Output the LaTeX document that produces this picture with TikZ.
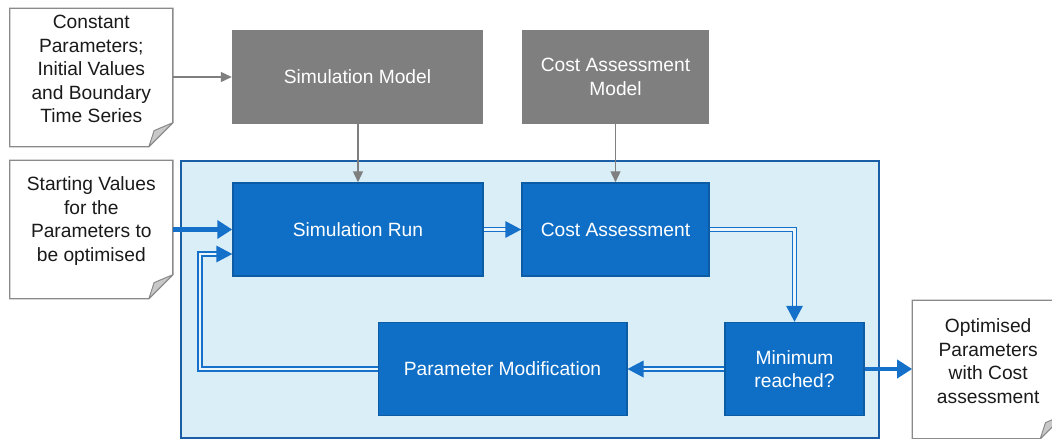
\documentclass[tikz,border=0pt]{standalone}
\usepackage{fontspec}
\setmainfont{Liberation Sans}
\usetikzlibrary{arrows.meta,calc}

\definecolor{boxgray}{HTML}{7F7F7F}
\definecolor{boxblue}{HTML}{0F6FC6}
\definecolor{boxblueedge}{HTML}{0C5BA5}
\definecolor{panelfill}{HTML}{DAEEF8}
\definecolor{paneledge}{HTML}{1A5FA6}
\definecolor{flowblue}{HTML}{1570C9}
\definecolor{noteedge}{HTML}{8A8A8A}
\definecolor{notefold}{HTML}{C8C8C8}
\definecolor{notetextcol}{HTML}{1A1A1A}

\tikzset{
  graybox/.style={rectangle, fill=boxgray, text=white, minimum width=#1,
    minimum height=94pt, align=center, inner sep=0pt},
  bluebox/.style={rectangle, draw=boxblueedge, line width=1.5pt, fill=boxblue,
    text=white, minimum width=#1, minimum height=93pt, align=center, inner sep=0pt},
  notebox/.style={rectangle, minimum width=#1, minimum height=138pt, inner sep=0pt},
  notetext/.style={align=center, text=notetextcol, yshift=8.5pt},
  noteline/.style={draw=noteedge, line width=1.3pt, fill=white, line join=miter},
  foldline/.style={draw=noteedge, line width=1pt, fill=notefold, line join=round},
  grayarrow/.style={draw=boxgray, line width=1.3pt, -{Triangle[length=11pt,width=10pt]}},
  thickarrow/.style={draw=flowblue, line width=4.5pt, -{Triangle[length=15pt,width=18pt]}},
  doubleflow/.style={draw=flowblue, line width=1.8pt, double=white!45!panelfill,
    double distance=2.2pt, shorten >=14pt},
  flowtip/.style={fill=flowblue},
}

% folded-corner sheet drawn around a note node
\newcommand\foldsheet[2]{%
  \draw[noteline] (#1.north west) -- (#1.north east)
    -- ($(#1.south east)+(0,-#2)$) -- ($(#1.south east)+(-#2,0)$)
    -- (#1.south west) -- cycle;
  \draw[foldline] ($(#1.south east)+(0,-#2)$) -- ($(#1.south east)+(-#2,0)$)
    -- ($(#1.south east)+(-0.78*#2,-0.67*#2)$) -- cycle;
}

\begin{document}
\begin{tikzpicture}[x=1pt, y=-1pt, font=\fontsize{19.2}{23.5}\selectfont]
\useasboundingbox (0,0) rectangle (1052,439);
\clip (0,0) rectangle (1052,439);

% optimisation loop panel
\node[rectangle, draw=paneledge, line width=2pt, fill=panelfill,
  minimum width=698pt, minimum height=277.5pt, inner sep=0pt] (panel) at (530.2,299.5) {};

% input and output sheets
\node[notebox=162.7pt] (consts) at (91.3,77.5) {};
\node[notebox=162.7pt] (start) at (91.3,229.5) {};
\node[notebox=151.7pt] (result) at (988.2,369.5) {};
\foldsheet{consts}{24}
\foldsheet{start}{24}
\foldsheet{result}{24}
\node[notetext] (conststext) at (consts.center) {Constant\\Parameters;\\Initial Values\\and Boundary\\Time Series};
\node[notetext] (starttext) at (start.center) {Starting Values\\for the\\Parameters to\\be optimised};
\node[notetext] (resulttext) at (result.center) {Optimised\\Parameters\\with Cost\\assessment};

% models
\node[graybox=251pt] (simmodel) at (357.5,77) {Simulation Model};
\node[graybox=187pt] (costmodel) at (615.5,77) {Cost Assessment\\Model};

% loop steps
\node[bluebox=250pt] (simrun) at (358,229.5) {Simulation Run};
\node[bluebox=187pt] (cost) at (615.5,229.5) {Cost Assessment};
\node[bluebox=139pt] (minimum) at (794.5,369) {Minimum\\reached?};
\node[bluebox=248.5pt] (parmod) at (502.5,369) {Parameter Modification};

% model inputs
\draw[grayarrow] (consts.east |- simmodel.west) -- (simmodel.west);
\draw[grayarrow] (simmodel.south -| simrun.north) -- (simrun.north);
\draw[grayarrow] (costmodel.south -| cost.north) -- (cost.north);

% starting values and result
\draw[thickarrow] (start.east |- simrun.west) -- (simrun.west);
\draw[thickarrow] (minimum.east) -- (result.west |- minimum.east);

% loop flow
\draw[doubleflow] (simrun.east) -- (cost.west);
\fill[flowtip] (cost.west) -- ++(-16,-8.5) -- ++(0,17) -- cycle;

\draw[doubleflow] (cost.east) -| (minimum.north);
\fill[flowtip] (minimum.north) -- ++(-8.5,-16) -- ++(17,0) -- cycle;

\draw[doubleflow] (minimum.west) -- (parmod.east);
\fill[flowtip] (parmod.east) -- ++(16,-8.5) -- ++(0,17) -- cycle;

\coordinate (loopside) at (200,300);
\coordinate (simrunin) at ($(simrun.west)+(0,24.5)$);
\draw[doubleflow] (parmod.west) -- (parmod.west -| loopside) -- (loopside |- simrunin) -- (simrunin);
\fill[flowtip] (simrunin) -- ++(-16,-8.5) -- ++(0,17) -- cycle;
\end{tikzpicture}
\end{document}
